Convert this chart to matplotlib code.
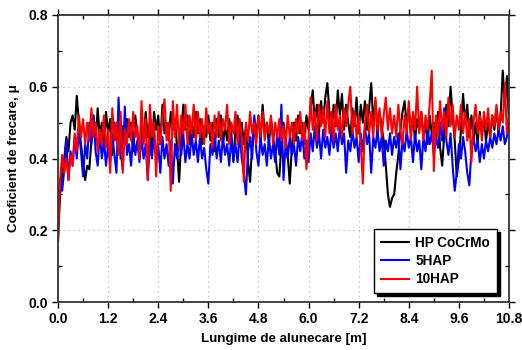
import numpy as np
import matplotlib
matplotlib.use("Agg")
import matplotlib.pyplot as plt
from matplotlib.ticker import MultipleLocator, FormatStrFormatter

# Sampling step of the sliding distance [m]
distance_step = 0.05

hp_cocrmo = [
    0.17, 0.30, 0.36, 0.40, 0.46, 0.42, 0.50, 0.52, 0.48, 0.575,
    0.50, 0.44, 0.39, 0.34, 0.38, 0.37, 0.45, 0.52, 0.44, 0.54,
    0.46, 0.50, 0.43, 0.53, 0.47, 0.51, 0.41, 0.50, 0.45, 0.53,
    0.40, 0.49, 0.44, 0.51, 0.46, 0.50, 0.42, 0.52, 0.47, 0.40,
    0.50, 0.45, 0.53, 0.46, 0.50, 0.43, 0.53, 0.48, 0.52, 0.44,
    0.55, 0.47, 0.50, 0.45, 0.53, 0.48, 0.51, 0.43, 0.335, 0.45,
    0.55, 0.48, 0.52, 0.44, 0.50, 0.46, 0.53, 0.47, 0.51, 0.44,
    0.49, 0.46, 0.52, 0.45, 0.50, 0.42, 0.51, 0.46, 0.52, 0.44,
    0.49, 0.45, 0.51, 0.47, 0.39, 0.48, 0.52, 0.45, 0.50, 0.44,
    0.49, 0.39, 0.335, 0.44, 0.51, 0.47, 0.52, 0.45, 0.55, 0.47,
    0.50, 0.44, 0.51, 0.46, 0.42, 0.36, 0.35, 0.44, 0.50, 0.46,
    0.41, 0.33, 0.43, 0.50, 0.45, 0.52, 0.47, 0.50, 0.44, 0.52,
    0.48, 0.54, 0.59, 0.50, 0.55, 0.47, 0.56, 0.50, 0.57, 0.61,
    0.53, 0.47, 0.55, 0.49, 0.59, 0.52, 0.58, 0.48, 0.55, 0.50,
    0.46, 0.54, 0.49, 0.57, 0.47, 0.55, 0.50, 0.56, 0.48, 0.54,
    0.61, 0.50, 0.56, 0.47, 0.53, 0.49, 0.45, 0.38, 0.30, 0.265,
    0.29, 0.30, 0.36, 0.41, 0.48, 0.53, 0.56, 0.49, 0.54, 0.47,
    0.52, 0.45, 0.51, 0.48, 0.53, 0.46, 0.50, 0.44, 0.52, 0.47,
    0.50, 0.45, 0.53, 0.43, 0.38, 0.47, 0.55, 0.49, 0.60, 0.52,
    0.45, 0.35, 0.40, 0.48, 0.58, 0.50, 0.55, 0.46, 0.52, 0.45,
    0.50, 0.44, 0.53, 0.47, 0.51, 0.45, 0.50, 0.46, 0.52, 0.48,
    0.54, 0.47, 0.52, 0.645, 0.55, 0.63, 0.50,
]

hap5 = [
    0.25, 0.34, 0.31, 0.37, 0.45, 0.34, 0.42, 0.38, 0.46, 0.40,
    0.48, 0.42, 0.35, 0.44, 0.40, 0.50, 0.44, 0.52, 0.42, 0.38,
    0.47, 0.40, 0.45, 0.38, 0.44, 0.39, 0.47, 0.41, 0.36, 0.57,
    0.42, 0.37, 0.545, 0.41, 0.44, 0.38, 0.47, 0.41, 0.45, 0.39,
    0.46, 0.40, 0.44, 0.34, 0.45, 0.40, 0.47, 0.41, 0.44, 0.36,
    0.46, 0.40, 0.44, 0.38, 0.45, 0.33, 0.44, 0.40, 0.46, 0.41,
    0.47, 0.39, 0.44, 0.40, 0.47, 0.41, 0.45, 0.39, 0.46, 0.40,
    0.43, 0.37, 0.33, 0.44, 0.41, 0.47, 0.40, 0.45, 0.39, 0.46,
    0.41, 0.44, 0.38, 0.46, 0.40, 0.44, 0.39, 0.47, 0.40, 0.36,
    0.30, 0.42, 0.46, 0.40, 0.52, 0.42, 0.38, 0.46, 0.41, 0.44,
    0.38, 0.46, 0.40, 0.44, 0.39, 0.47, 0.41, 0.55, 0.34, 0.44,
    0.40, 0.46, 0.41, 0.44, 0.38, 0.46, 0.42, 0.47, 0.40, 0.45,
    0.39, 0.47, 0.42, 0.49, 0.43, 0.47, 0.40, 0.48, 0.43, 0.46,
    0.41, 0.48, 0.43, 0.47, 0.42, 0.49, 0.44, 0.47, 0.36, 0.45,
    0.42, 0.48, 0.43, 0.46, 0.39, 0.47, 0.42, 0.49, 0.44, 0.47,
    0.36, 0.46, 0.43, 0.48, 0.42, 0.46, 0.38, 0.45, 0.42, 0.47,
    0.41, 0.46, 0.43, 0.47, 0.37, 0.45, 0.42, 0.48, 0.43, 0.46,
    0.39, 0.47, 0.42, 0.45, 0.37, 0.46, 0.42, 0.48, 0.44, 0.47,
    0.41, 0.46, 0.43, 0.50, 0.45, 0.54, 0.45, 0.41, 0.47, 0.38,
    0.31, 0.36, 0.44, 0.40, 0.46, 0.42, 0.36, 0.325, 0.42, 0.46,
    0.42, 0.45, 0.39, 0.44, 0.40, 0.45, 0.42, 0.46, 0.43, 0.47,
    0.44, 0.48, 0.45, 0.49, 0.44, 0.46, 0.50,
]

hap10 = [
    0.17, 0.34, 0.41, 0.36, 0.40, 0.34, 0.41, 0.38, 0.47, 0.42,
    0.52, 0.46, 0.51, 0.44, 0.50, 0.45, 0.54, 0.46, 0.50, 0.42,
    0.48, 0.44, 0.52, 0.43, 0.48, 0.36, 0.54, 0.45, 0.50, 0.41,
    0.53, 0.36, 0.48, 0.44, 0.51, 0.45, 0.53, 0.46, 0.49, 0.40,
    0.56, 0.44, 0.51, 0.34, 0.55, 0.46, 0.50, 0.35, 0.49, 0.44,
    0.52, 0.565, 0.45, 0.50, 0.31, 0.56, 0.46, 0.55, 0.43, 0.52,
    0.47, 0.55, 0.44, 0.52, 0.47, 0.55, 0.45, 0.53, 0.46, 0.51,
    0.44, 0.54, 0.47, 0.50, 0.43, 0.52, 0.46, 0.53, 0.45, 0.51,
    0.48, 0.55, 0.44, 0.50, 0.47, 0.53, 0.44, 0.51, 0.46, 0.335,
    0.50, 0.45, 0.53, 0.47, 0.50, 0.44, 0.52, 0.46, 0.53, 0.45,
    0.50, 0.47, 0.52, 0.44, 0.50, 0.46, 0.51, 0.45, 0.49, 0.43,
    0.52, 0.46, 0.50, 0.44, 0.51, 0.47, 0.53, 0.45, 0.50, 0.37,
    0.46, 0.57, 0.48, 0.53, 0.45, 0.55, 0.49, 0.54, 0.46, 0.56,
    0.47, 0.53, 0.45, 0.55, 0.48, 0.52, 0.46, 0.54, 0.49, 0.55,
    0.60, 0.47, 0.53, 0.46, 0.52, 0.44, 0.33, 0.50, 0.55, 0.47,
    0.53, 0.46, 0.57, 0.48, 0.54, 0.46, 0.52, 0.57, 0.48, 0.54,
    0.47, 0.52, 0.46, 0.55, 0.48, 0.44, 0.52, 0.47, 0.56, 0.45,
    0.53, 0.48, 0.60, 0.47, 0.53, 0.45, 0.52, 0.48, 0.55, 0.645,
    0.365, 0.52, 0.46, 0.56, 0.48, 0.53, 0.46, 0.57, 0.49, 0.55,
    0.46, 0.52, 0.48, 0.55, 0.47, 0.53, 0.45, 0.51, 0.39, 0.50,
    0.55, 0.47, 0.52, 0.45, 0.53, 0.48, 0.54, 0.46, 0.52, 0.49,
    0.55, 0.48, 0.53, 0.50, 0.61, 0.47, 0.52,
]

series_labels = ["HP CoCrMo", "5HAP", "10HAP"]
series_colors = ["#000000", "#0000ff", "#ff0000"]

x_ticks = [0.0, 1.2, 2.4, 3.6, 4.8, 6.0, 7.2, 8.4, 9.6, 10.8]
y_ticks = [0.0, 0.2, 0.4, 0.6, 0.8]

plt.rcParams['font.family'] = ['Liberation Sans', 'DejaVu Sans']
plt.rcParams['font.weight'] = 'bold'

fig = plt.figure(figsize=(5.22, 3.5), dpi=100)
ax = fig.add_axes([58/522, 48/350, (509-58)/522, (302-15)/350])

for data, lab, col in zip([hp_cocrmo, hap5, hap10], series_labels, series_colors):
    d = np.asarray(data)
    x = np.arange(len(d)) * distance_step
    ax.plot(x, d, color=col, lw=1.5, label=lab)

ax.set_xlim(0, 10.8)
ax.set_ylim(0, 0.8)
ax.set_xticks(x_ticks)
ax.set_yticks(y_ticks)
ax.xaxis.set_minor_locator(MultipleLocator(0.6))
ax.yaxis.set_minor_locator(MultipleLocator(0.1))
ax.xaxis.set_major_formatter(FormatStrFormatter('%.1f'))
ax.yaxis.set_major_formatter(FormatStrFormatter('%.1f'))

ax.grid(True, which='major', linestyle=(0, (1, 3)), color='#b8b8b8', lw=0.9)
ax.set_axisbelow(True)

ax.tick_params(which='major', direction='out', length=4, width=1, top=True, right=True,
               labelsize=10, pad=3)
ax.tick_params(which='minor', direction='in', length=3, width=1, top=True, right=True)
for lab in ax.get_xticklabels() + ax.get_yticklabels():
    lab.set_fontweight('bold')

for sp in ax.spines.values():
    sp.set_linewidth(1.3)
    sp.set_color('#333333')

ax.set_xlabel("Lungime de alunecare [m]", fontsize=9.6, fontweight='bold', labelpad=5)
ax.set_ylabel("Coeficient de frecare, μ", fontsize=9.6, fontweight='bold', labelpad=6)

leg = ax.legend(loc='lower right', bbox_to_anchor=(0.973, 0.031), borderaxespad=0,
                fontsize=9.8, frameon=True, fancybox=False, edgecolor='black',
                shadow={'color': 'black', 'alpha': 1.0},
                handlelength=2.1, borderpad=0.5, labelspacing=0.3, handletextpad=0.45)
leg.get_frame().set_linewidth(1.0)
for t in leg.get_texts():
    t.set_fontweight('bold')

fig.savefig("out.png", dpi=100)
